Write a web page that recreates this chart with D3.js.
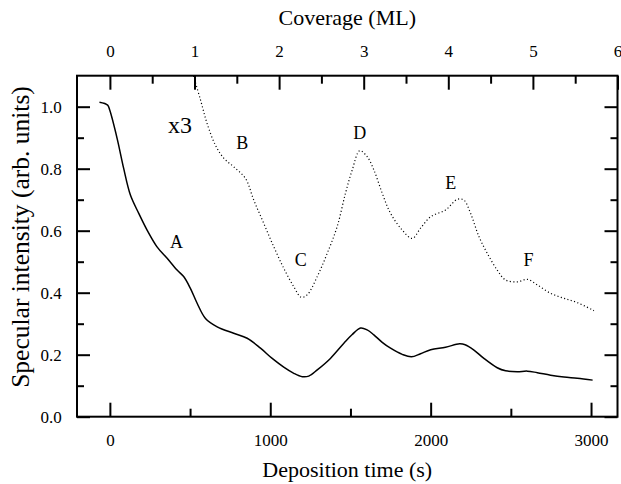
<!DOCTYPE html>
<html>
<head>
<meta charset="utf-8">
<script src="https://d3js.org/d3.v7.min.js"></script>
<style>
  body { margin: 0; background: #fff; }
  svg text { font-family: "Liberation Serif", "Times New Roman", serif; fill: #000; }
</style>
</head>
<body>
<svg id="chart" width="621" height="484"></svg>
<script>
// deposition time (s) and specular intensity, solid curve
var solidTime = [-65, -14, -1, 45, 86, 128, 180, 232, 294, 357, 419, 460, 502, 544, 596, 669, 772, 856, 939, 1012,
  1084, 1147, 1200, 1240, 1293, 1375, 1459, 1511, 1563, 1604, 1646, 1698, 1750, 1823, 1880, 1937, 2000, 2093,
  2180, 2215, 2270, 2332, 2415, 2467, 2540, 2603, 2665, 2748, 2831, 2914, 3010];
var solidValue = [1.014, 1.005, 0.989, 0.898, 0.801, 0.715, 0.656, 0.602, 0.548, 0.511, 0.473, 0.452, 0.414, 0.366, 0.317, 0.290, 0.269, 0.253, 0.221, 0.188,
  0.160, 0.140, 0.129, 0.131, 0.151, 0.188, 0.237, 0.265, 0.286, 0.280, 0.264, 0.240, 0.221, 0.201, 0.193, 0.203, 0.216, 0.224,
  0.235, 0.232, 0.215, 0.188, 0.158, 0.148, 0.145, 0.147, 0.142, 0.134, 0.128, 0.124, 0.118];

// dotted curve (x3 magnified)
var dottedTime = [515, 565, 606, 658, 710, 772, 845, 897, 959, 1022, 1084, 1147, 1193, 1230, 1293, 1355, 1417, 1469,
  1511, 1558, 1604, 1646, 1698, 1750, 1823, 1885, 1937, 2000, 2093, 2166, 2207, 2249, 2301, 2353, 2415, 2467,
  2540, 2603, 2665, 2748, 2831, 2914, 3018];
var dottedValue = [1.11, 1.022, 0.946, 0.876, 0.834, 0.806, 0.769, 0.699, 0.624, 0.548, 0.479, 0.419, 0.385, 0.393, 0.452, 0.527, 0.613, 0.721,
  0.796, 0.858, 0.839, 0.796, 0.721, 0.656, 0.602, 0.575, 0.608, 0.645, 0.667, 0.701, 0.699, 0.656, 0.581, 0.527, 0.473, 0.441,
  0.435, 0.443, 0.425, 0.398, 0.382, 0.368, 0.342];

// point labels
var markNames = ["A", "B", "C", "D", "E", "F"];
var markTime = [415, 825, 1190, 1558, 2125, 2610];
var markValue = [0.566, 0.884, 0.505, 0.916, 0.755, 0.505];

var timeTicks = [0, 1000, 2000, 3000];
var timeMinor = [500, 1500, 2500];
var coverageTicks = [0, 1, 2, 3, 4, 5, 6];
var coverageMinor = [0.5, 1.5, 2.5, 3.5, 4.5, 5.5];
var intensityTicks = [0.0, 0.2, 0.4, 0.6, 0.8, 1.0];
var intensityMinor = [0.1, 0.3, 0.5, 0.7, 0.9];

var svg = d3.select("#chart");
// plot frame (window.top is taken, so no "top" here)
var plotL = 77, plotR = 617.5, plotT = 75.7, plotB = 416.7;

var xScale = d3.scaleLinear().domain([-205, 3165]).range([plotL, plotR]);
var covScale = d3.scaleLinear().domain([-0.389, 6.0]).range([plotL, plotR]);
var yScale = d3.scaleLinear().domain([0, 1.1]).range([plotB, plotT]);

drawAxes();
drawCurves();
drawLabels();

function styleAxis(g) {
  g.attr("font-size", 17).attr("font-family", null);
  g.select(".domain").remove();
  g.selectAll(".tick line").attr("stroke", "#000").attr("stroke-width", 2);
  g.selectAll(".tick text").style("font-size", "17px");
}

function drawAxes() {
  // bottom
  svg.append("g").attr("transform", "translate(0," + plotB + ")")
    .call(d3.axisBottom(xScale).tickValues(timeTicks).tickSize(-14).tickPadding(17.5).tickFormat(d3.format("d")))
    .call(styleAxis);
  svg.append("g").attr("transform", "translate(0," + plotB + ")")
    .call(d3.axisBottom(xScale).tickValues(timeMinor).tickSize(-8).tickFormat(""))
    .call(styleAxis);
  // top
  svg.append("g").attr("transform", "translate(0," + plotT + ")")
    .call(d3.axisTop(covScale).tickValues(coverageTicks).tickSize(-14).tickPadding(19).tickFormat(d3.format("d")))
    .call(styleAxis);
  svg.append("g").attr("transform", "translate(0," + plotT + ")")
    .call(d3.axisTop(covScale).tickValues(coverageMinor).tickSize(-8).tickFormat(""))
    .call(styleAxis);
  // left
  svg.append("g").attr("transform", "translate(" + plotL + ",0)")
    .call(d3.axisLeft(yScale).tickValues(intensityTicks).tickSize(-13).tickPadding(15.3).tickFormat(d3.format(".1f")))
    .call(styleAxis);
  svg.append("g").attr("transform", "translate(" + plotL + ",0)")
    .call(d3.axisLeft(yScale).tickValues(intensityMinor).tickSize(-7).tickFormat(""))
    .call(styleAxis);
  // right
  svg.append("g").attr("transform", "translate(" + plotR + ",0)")
    .call(d3.axisRight(yScale).tickValues(intensityTicks).tickSize(-13).tickFormat(""))
    .call(styleAxis);
  svg.append("g").attr("transform", "translate(" + plotR + ",0)")
    .call(d3.axisRight(yScale).tickValues(intensityMinor).tickSize(-7).tickFormat(""))
    .call(styleAxis);

  svg.append("rect")
    .attr("x", plotL).attr("y", plotT)
    .attr("width", plotR - plotL).attr("height", plotB - plotT)
    .attr("fill", "none").attr("stroke", "#000").attr("stroke-width", 2);

  svg.append("text")
    .attr("x", (plotL + plotR) / 2).attr("y", 25)
    .attr("text-anchor", "middle").style("font-size", "22px")
    .text("Coverage (ML)");
  svg.append("text")
    .attr("x", (plotL + plotR) / 2).attr("y", 477)
    .attr("text-anchor", "middle").style("font-size", "22px")
    .text("Deposition time (s)");
  svg.append("text")
    .attr("transform", "translate(29," + 237 + ") rotate(-90)")
    .attr("text-anchor", "middle").style("font-size", "25.5px")
    .text("Specular intensity (arb. units)");
}

function drawCurves() {
  svg.append("clipPath").attr("id", "plotClip")
    .append("rect").attr("x", plotL).attr("y", plotT).attr("width", plotR - plotL).attr("height", plotB - plotT);

  var line = d3.line()
    .x(function(d) { return xScale(d[0]); })
    .y(function(d) { return yScale(d[1]); })
    .curve(d3.curveCatmullRom.alpha(0.5));

  var solid = solidTime.map(function(t, i) { return [t, solidValue[i]]; });
  var dotted = dottedTime.map(function(t, i) { return [t, dottedValue[i]]; });

  var plot = svg.append("g").attr("clip-path", "url(#plotClip)");
  plot.append("path").datum(solid)
    .attr("d", line).attr("fill", "none")
    .attr("stroke", "#000").attr("stroke-width", 1.5);
  plot.append("path").datum(dotted)
    .attr("d", line).attr("fill", "none")
    .attr("stroke", "#000").attr("stroke-width", 1.2)
    .attr("stroke-dasharray", "1.1,2.4");
}

function drawLabels() {
  svg.selectAll(".mark").data(markNames).enter()
    .append("text").attr("class", "mark")
    .attr("x", function(d, i) { return xScale(markTime[i]); })
    .attr("y", function(d, i) { return yScale(markValue[i]); })
    .attr("dy", "0.35em").attr("text-anchor", "middle")
    .style("font-size", "18px")
    .text(function(d) { return d; });

  svg.append("text")
    .attr("x", 180).attr("y", 125).attr("dy", "0.35em")
    .attr("text-anchor", "middle").style("font-size", "24px")
    .text("x3");
}
</script>
</body>
</html>
